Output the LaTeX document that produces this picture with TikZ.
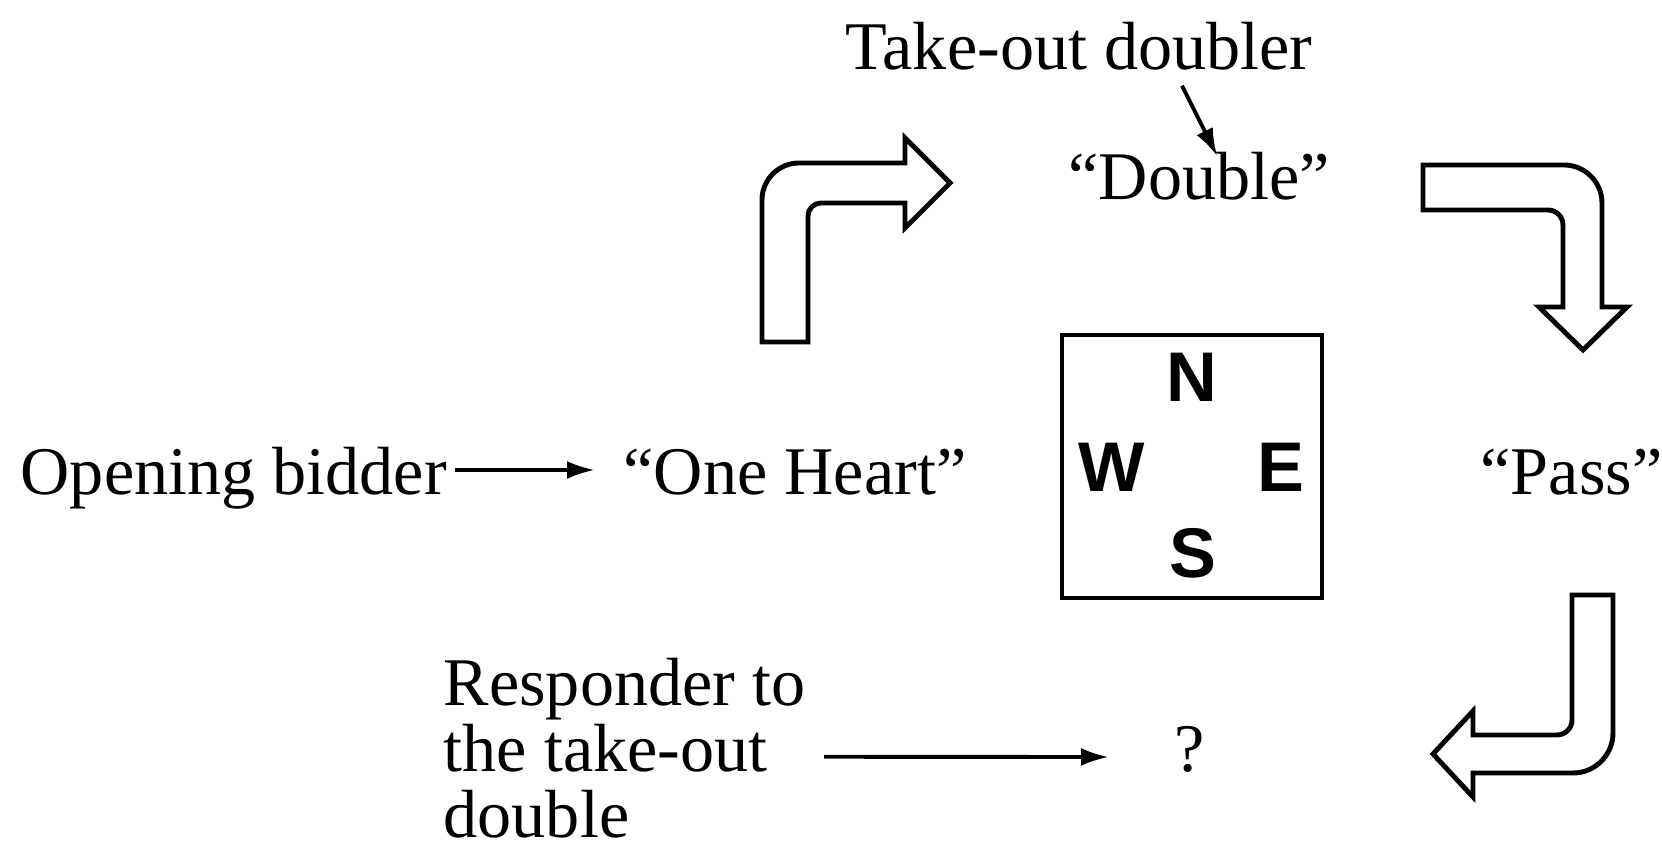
\documentclass[tikz,border=0pt]{standalone}
\usepackage{fontspec}
\setmainfont{Liberation Serif}
\setsansfont{Liberation Sans}
\usepackage{tikz}
\usetikzlibrary{arrows.meta,positioning}
\tikzset{
  lbl/.style={font=\fontsize{19.4}{18.8}\selectfont,inner sep=0.5mm},
  word/.style={lbl,anchor=base west,text height=0.48cm,text depth=0.15cm},
  wind/.style={font=\sffamily\bfseries\fontsize{20}{24}\selectfont,inner sep=0pt},
  tablebox/.style={draw,line width=1.2pt,minimum width=2.6cm,minimum height=2.63cm,inner sep=0pt},
  callarr/.style={-{Latex[length=2.8mm,width=1.8mm]},line width=1.1pt},
  fatarr/.style={draw,line width=1.4pt,line join=miter},
}
\begin{document}
\begin{tikzpicture}
        \useasboundingbox (0,0) rectangle (16.62,8.52);
        % the table
        \node[tablebox] (table) at (11.92,3.855) {};
        \node[wind] (north) at (11.92,4.75) {N};
        \node[wind] (west)  at (11.12,3.85) {W};
        \node[wind] (east)  at (12.81,3.85) {E};
        \node[wind] (south) at (11.93,2.99) {S};
        % the calls
        \node[word] (open)  at (0.15,3.57)  {Opening bidder};
        \node[word] (heart) at (6.18,3.57)  {“One Heart”};
        \node[word] (pass)  at (14.75,3.57) {“Pass”};
        \node[word] (tod)   at (8.40,7.82)  {Take-out doubler};
        \node[word] (dbl)   at (10.63,6.52) {“Double”};
        \node[word] (ask)   at (11.69,0.80) {?};
        \node[lbl,align=left,anchor=west] (resp) at (4.38,1.042) {Responder to\\the take-out\\double};
        \draw[callarr,shorten <=0.3mm,shorten >=2.3mm] ([yshift=0.85mm]open.east) -- ([yshift=0.85mm]heart.west);
        \draw[callarr] ([shift={(10.3mm,0.5mm)}]tod.south) -- ([shift={(1.8mm,-1mm)}]dbl.north);
        \draw[callarr] ([shift={(1.3mm,-0.9mm)}]resp.east) -- ([shift={(-6mm,-0.15mm)}]ask.west);
        % turn arrows
        \draw[fatarr] (7.62,5.10) -- (7.62,6.52) arc[start angle=180,end angle=90,radius=0.37]
          -- (9.05,6.89) -- (9.05,7.14) -- (9.50,6.69) -- (9.05,6.24) -- (9.05,6.49)
          -- (8.21,6.49) arc[start angle=90,end angle=180,radius=0.13] -- (8.08,5.10) -- cycle;
        \draw[fatarr] (14.23,6.87) -- (15.64,6.87) arc[start angle=90,end angle=0,radius=0.38]
          -- (16.02,5.45) -- (16.27,5.45) -- (15.83,5.02) -- (15.39,5.45) -- (15.63,5.45)
          -- (15.63,6.27) arc[start angle=0,end angle=90,radius=0.15] -- (14.23,6.42) -- cycle;
        \draw[fatarr] (15.72,2.57) -- (16.13,2.57) -- (16.13,1.19) arc[start angle=0,end angle=-90,radius=0.40]
          -- (14.73,0.79) -- (14.73,0.55) -- (14.33,0.98) -- (14.73,1.41) -- (14.73,1.17)
          -- (15.57,1.17) arc[start angle=-90,end angle=0,radius=0.15] -- cycle;
      \end{tikzpicture}
\end{document}
